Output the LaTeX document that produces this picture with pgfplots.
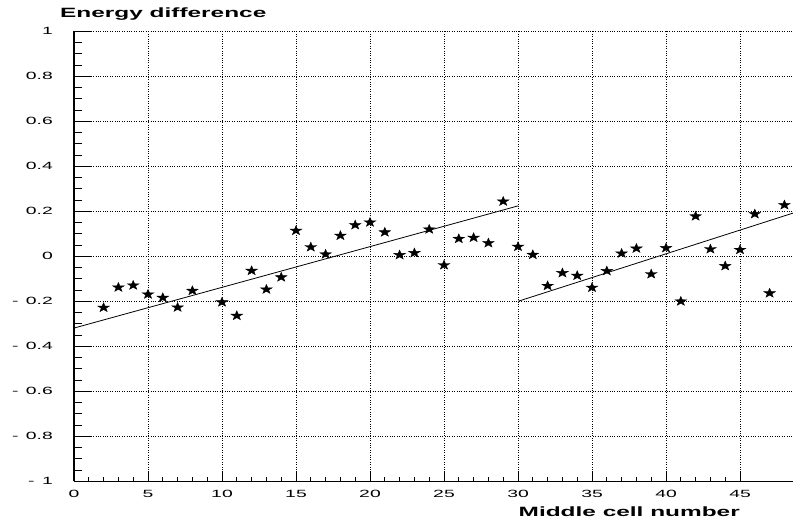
\documentclass[border=0pt]{standalone}
\usepackage{pgfplots}
\pgfplotsset{compat=1.18}
\usepackage{graphicx}
\usepackage{fontspec}
\setmainfont{Liberation Sans}
\newcommand{\sx}[1]{\scalebox{1.85}[1]{#1}}
\pgfdeclareplotmark{fstar}{%
  \pgfpathmoveto{\pgfpointpolar{90}{\pgfplotmarksize}}%
  \pgfpathlineto{\pgfpointpolar{126}{0.4\pgfplotmarksize}}%
  \pgfpathlineto{\pgfpointpolar{162}{\pgfplotmarksize}}%
  \pgfpathlineto{\pgfpointpolar{198}{0.4\pgfplotmarksize}}%
  \pgfpathlineto{\pgfpointpolar{234}{\pgfplotmarksize}}%
  \pgfpathlineto{\pgfpointpolar{270}{0.4\pgfplotmarksize}}%
  \pgfpathlineto{\pgfpointpolar{306}{\pgfplotmarksize}}%
  \pgfpathlineto{\pgfpointpolar{342}{0.4\pgfplotmarksize}}%
  \pgfpathlineto{\pgfpointpolar{18}{\pgfplotmarksize}}%
  \pgfpathlineto{\pgfpointpolar{54}{0.4\pgfplotmarksize}}%
  \pgfpathclose\pgfusepathqfillstroke}
\pgfplotstableread{
x y
2 -0.228
3 -0.138
4 -0.129
5 -0.169
6 -0.184
7 -0.227
8 -0.153
10 -0.204
11 -0.264
12 -0.064
13 -0.147
14 -0.093
15 0.114
16 0.041
17 0.009
18 0.092
19 0.139
20 0.151
21 0.107
22 0.006
23 0.015
24 0.120
25 -0.039
26 0.078
27 0.083
28 0.059
29 0.244
30 0.043
31 0.007
32 -0.131
33 -0.074
34 -0.086
35 -0.139
36 -0.065
37 0.013
38 0.035
39 -0.079
40 0.037
41 -0.200
42 0.178
43 0.032
44 -0.043
45 0.029
46 0.188
47 -0.164
48 0.228
}\datatable
\begin{document}
\begin{tikzpicture}
\begin{axis}[
  scale only axis, width=719bp, height=450bp,
  xmin=0, xmax=48.58, ymin=-1, ymax=1,
  axis x line*=bottom, axis y line*=left,
  axis line style={line width=1.4bp, black},
  xtick={0,5,10,15,20,25,30,35,40,45},
  ytick={-1,-0.8,-0.6,-0.4,-0.2,0,0.2,0.4,0.6,0.8,1},
  xticklabels={\sx{0},\sx{5},\sx{10},\sx{15},\sx{20},\sx{25},\sx{30},\sx{35},\sx{40},\sx{45}},
  yticklabels={\sx{-\hspace{4pt}1},\sx{-\hspace{4pt}0.8},\sx{-\hspace{4pt}0.6},\sx{-\hspace{4pt}0.4},\sx{-\hspace{4pt}0.2},\sx{0},\sx{0.2},\sx{0.4},\sx{0.6},\sx{0.8},\sx{1}},
  minor x tick num=4, minor y tick num=3,
  tick align=inside,
  major tick length=17bp, minor tick length=8bp,
  x tick style={/pgfplots/major tick length=9.5bp,/pgfplots/minor tick length=4.5bp},
  tick style={black, line width=0.8bp},
  grid=major, major grid style={dotted, black, line width=0.6bp},
  xticklabel style={font=\fontsize{10.5}{12}\selectfont, inner sep=0pt, anchor=north, yshift=-8.7bp},
  yticklabel style={font=\fontsize{10.5}{12}\selectfont, inner sep=0pt, anchor=east, xshift=-21bp},
]
\addplot[only marks, mark=fstar, mark size=4.9bp, mark options={xscale=1.25, fill=black, draw=black, line width=0.4bp}] table[x=x, y=y] {\datatable};
\addplot[black, line width=0.8bp, no marks] coordinates {(0,-0.319) (30,0.224)};
\addplot[black, line width=0.8bp, no marks] coordinates {(30,-0.2) (48.58,0.192)};
\coordinate (O) at (rel axis cs:0,0);
\end{axis}
\node[anchor=base west, inner sep=0pt] at ([xshift=-14bp,yshift=463.6bp]O) {\fontsize{13.5}{16}\selectfont\bfseries\scalebox{1.815}[1]{Energy difference}};
\node[anchor=base east, inner sep=0pt] at ([xshift=666bp,yshift=-34.7bp]O) {\fontsize{13.5}{16}\selectfont\bfseries\scalebox{1.815}[1]{Middle cell number}};
\pgfresetboundingbox
\path[use as bounding box] ([xshift=-74bp,yshift=-40.7bp]O) rectangle ++(793bp,522bp);
\end{tikzpicture}
\end{document}
